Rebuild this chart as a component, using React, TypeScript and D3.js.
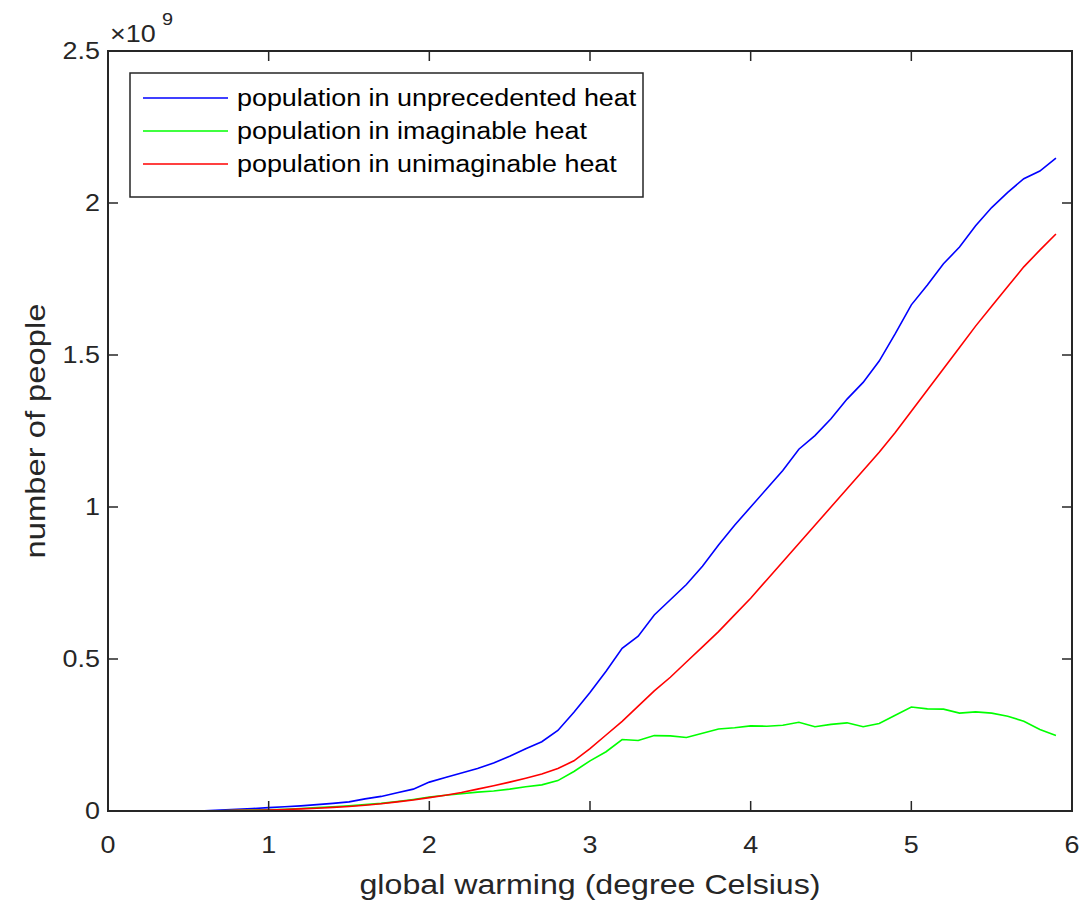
import React from "react";
import * as d3 from "d3";

const warming = [0,0.1,0.2,0.3,0.4,0.5,0.6,0.7,0.8,0.9,1.0,1.1,1.2,1.3,1.4,1.5,1.6,1.7,1.8,1.9,2.0,2.1,2.2,2.3,2.4,2.5,2.6,2.7,2.8,2.9,3.0,3.1,3.2,3.3,3.4,3.5,3.6,3.7,3.8,3.9,4.0,4.1,4.2,4.3,4.4,4.5,4.6,4.7,4.8,4.9,5.0,5.1,5.2,5.3,5.4,5.5,5.6,5.7,5.8,5.9];

// values in units of 1e9 people
const unprecedented = [0,0,0,0,0,0,0.001,0.003,0.006,0.008,0.011,0.014,0.017,0.021,0.025,0.03,0.04,0.048,0.06,0.072,0.095,0.11,0.125,0.14,0.158,0.18,0.205,0.228,0.265,0.325,0.39,0.46,0.535,0.575,0.645,0.695,0.745,0.805,0.875,0.94,1.0,1.06,1.12,1.19,1.235,1.29,1.355,1.41,1.48,1.57,1.665,1.73,1.8,1.855,1.925,1.985,2.035,2.08,2.105,2.148];
const imaginable = [0,0,0,0,0,0,0,0.001,0.002,0.003,0.004,0.006,0.008,0.011,0.014,0.017,0.021,0.025,0.031,0.038,0.046,0.052,0.057,0.062,0.066,0.072,0.08,0.086,0.1,0.13,0.165,0.195,0.235,0.232,0.248,0.247,0.242,0.256,0.27,0.274,0.28,0.279,0.282,0.292,0.277,0.285,0.29,0.277,0.288,0.315,0.342,0.336,0.335,0.322,0.326,0.322,0.312,0.295,0.268,0.248];
const unimaginable = [0,0,0,0,0,0,0,0.001,0.002,0.002,0.003,0.005,0.007,0.009,0.012,0.015,0.019,0.024,0.03,0.036,0.044,0.052,0.061,0.072,0.083,0.095,0.108,0.122,0.14,0.165,0.205,0.25,0.295,0.345,0.395,0.44,0.49,0.54,0.59,0.645,0.7,0.76,0.82,0.88,0.94,1.0,1.06,1.12,1.18,1.245,1.315,1.385,1.455,1.525,1.595,1.66,1.725,1.79,1.845,1.898];

const xTicks = [0,1,2,3,4,5,6];
const yTicks = [0,0.5,1,1.5,2,2.5];
const seriesNames = ["population in unprecedented heat","population in imaginable heat","population in unimaginable heat"];
const seriesColors = ["#0000ff","#00ff00","#ff0000"];

const SX = 1.17; // glyphs in the reference are wider than Liberation Sans

function T({ x, y, size, anchor = "start", fill = "#262626", rotate = 0, children }: any) {
  const tr = `translate(${x},${y})${rotate ? ` rotate(${rotate})` : ""} scale(${SX},1)`;
  return <text transform={tr} textAnchor={anchor} fontSize={size} fill={fill}>{children}</text>;
}

export default function App() {
  const W = 1087, H = 911;
  const L = 108, R = 1072, Tp = 51, B = 811;
  const x = d3.scaleLinear().domain([0, 6]).range([L, R]);
  const y = d3.scaleLinear().domain([0, 2.5]).range([B, Tp]);
  const data = [unprecedented, imaginable, unimaginable];
  const line = d3.line<number>().x((_, i) => x(warming[i])).y(d => y(d));
  const axisColor = "#262626";
  const font = "'Liberation Sans', Arial, Helvetica, sans-serif";
  const tl = 10;
  return (
    <svg width={W} height={H} style={{ position: "absolute", left: 0, top: 0, background: "#fff" }} fontFamily={font}>
      <rect x={0} y={0} width={W} height={H} fill="#fff" />
      <defs>
        <clipPath id="clip"><rect x={L} y={Tp} width={R - L} height={B - Tp} /></clipPath>
      </defs>
      <g clipPath="url(#clip)">
        {data.map((d, k) => (
          <path key={k} d={line(d) || ""} fill="none" stroke={seriesColors[k]} strokeWidth={1.6} />
        ))}
      </g>
      {xTicks.map(t => (
        <g key={"xt" + t}>
          <line x1={x(t)} x2={x(t)} y1={B} y2={B - tl} stroke={axisColor} strokeWidth={1.5} />
          <line x1={x(t)} x2={x(t)} y1={Tp} y2={Tp + tl} stroke={axisColor} strokeWidth={1.5} />
          <T x={x(t)} y={853} size={23} anchor="middle">{t}</T>
        </g>
      ))}
      {yTicks.map(t => (
        <g key={"yt" + t}>
          <line x1={L} x2={L + tl} y1={y(t)} y2={y(t)} stroke={axisColor} strokeWidth={1.5} />
          <line x1={R} x2={R - tl} y1={y(t)} y2={y(t)} stroke={axisColor} strokeWidth={1.5} />
          <T x={L - 8} y={y(t) + 8} size={23} anchor="end">{t}</T>
        </g>
      ))}
      <rect x={L} y={Tp} width={R - L} height={B - Tp} fill="none" stroke={axisColor} strokeWidth={2} />
      <T x={110} y={42} size={23}>×10</T>
      <T x={162} y={25} size={17}>9</T>
      <T x={(L + R) / 2} y={894} size={27.5} anchor="middle">global warming (degree Celsius)</T>
      <T x={45} y={(Tp + B) / 2} size={28} anchor="middle" rotate={-90}>number of people</T>
      <rect x={130} y={73} width={513} height={124} fill="#fff" stroke={axisColor} strokeWidth={1.5} />
      {seriesNames.map((n, k) => (
        <g key={n}>
          <line x1={143} x2={228} y1={98 + k * 33} y2={98 + k * 33} stroke={seriesColors[k]} strokeWidth={1.6} />
          <T x={237} y={106 + k * 33} size={23} fill="#000">{n}</T>
        </g>
      ))}
    </svg>
  );
}
